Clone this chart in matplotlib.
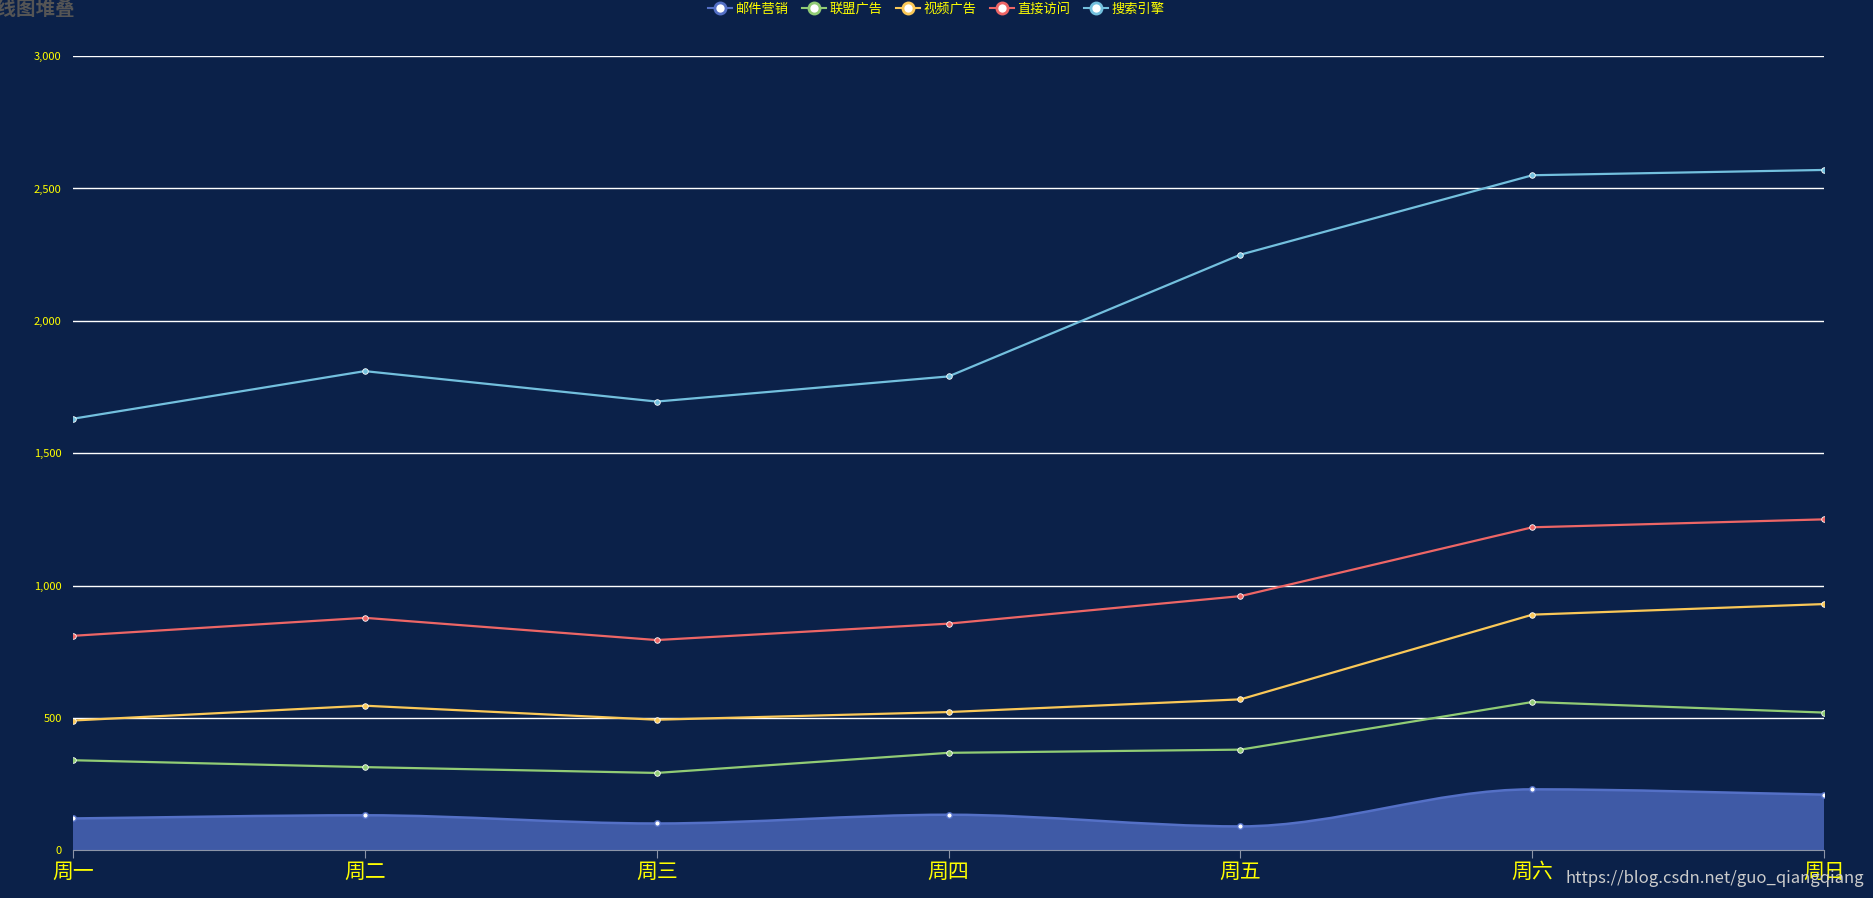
import matplotlib
matplotlib.use("Agg")
import matplotlib.pyplot as plt
import numpy as np
from matplotlib.path import Path
from matplotlib.patches import PathPatch
from matplotlib.lines import Line2D

plt.rcParams['font.family'] = ['Noto Sans CJK SC', 'DejaVu Sans']

days = ['周一', '周二', '周三', '周四', '周五', '周六', '周日']
series_names = ['邮件营销', '联盟广告', '视频广告', '直接访问', '搜索引擎']
email = [120, 132, 101, 134, 90, 230, 210]
union = [220, 182, 191, 234, 290, 330, 310]
video = [150, 232, 201, 154, 190, 330, 410]
direct = [320, 332, 301, 334, 390, 330, 320]
search = [820, 932, 901, 934, 1290, 1330, 1320]
colors = ['#5470c6', '#91cc75', '#fac858', '#ee6666', '#73c0de']
bg = '#0b2149'

W, H = 1873, 898
fig = plt.figure(figsize=(W/100, H/100), dpi=100, facecolor=bg)
ax = fig.add_axes([0.0389, 0.0532, 0.974-0.0389, 0.9375-0.0532], facecolor=bg)

x = np.arange(len(days))
stack = np.cumsum(np.array([email, union, video, direct, search]), axis=0)

def smooth_path(xs, ys, close=False):
    verts = [(xs[0], ys[0])]
    codes = [Path.MOVETO]
    n = len(xs)
    for i in range(n-1):
        x0, y0 = xs[i], ys[i]
        x1, y1 = xs[i+1], ys[i+1]
        yp = ys[i-1] if i > 0 else y0
        yn = ys[i+2] if i+2 < n else y1
        d0 = 0 if (y0-yp)*(y1-y0) <= 0 and i > 0 else (y1-yp)/2 if i > 0 else (y1-y0)
        d1 = 0 if (yn-y1)*(y1-y0) <= 0 and i+2 < n else (yn-y0)/2 if i+2 < n else (y1-y0)
        c1 = (x0 + 1/3, y0 + d0/3)
        c2 = (x1 - 1/3, y1 - d1/3)
        verts += [c1, c2, (x1, y1)]
        codes += [Path.CURVE4]*3
    if close:
        verts += [(xs[-1], 0), (xs[0], 0), (xs[0], ys[0])]
        codes += [Path.LINETO, Path.LINETO, Path.CLOSEPOLY]
    return Path(verts, codes)

ax.add_patch(PathPatch(smooth_path(x, stack[0], close=True), facecolor='#3f5aa6', edgecolor='none', zorder=1))
ax.add_patch(PathPatch(smooth_path(x, stack[0]), facecolor='none', edgecolor=colors[0], lw=1.8, zorder=3))
ax.plot(x, stack[0], 'o', color=colors[0], ms=4, mfc='white', mec=colors[0], zorder=4)
for k in range(1, 5):
    ax.plot(x, stack[k], '-o', color=colors[k], lw=1.6, ms=4, mfc=colors[k], mec='white', mew=0.6, zorder=3)

ax.set_xlim(0, 6)
ax.set_ylim(0, 3000)
ax.set_yticks(range(0, 3001, 500))
ax.set_yticklabels([f'{v:,}' for v in range(0, 3001, 500)])
ax.set_xticks(x)
ax.set_xticklabels(days)
ax.grid(axis='y', color='white', lw=1)
ax.set_axisbelow(True)
for s in ['top', 'right', 'left']:
    ax.spines[s].set_visible(False)
ax.spines['bottom'].set_color('#8c95a8')
ax.tick_params(axis='y', length=0, colors='yellow', labelsize=8, pad=8)
ax.tick_params(axis='x', length=6, color='#8c95a8', colors='yellow', labelsize=15, pad=2)

handles = [Line2D([], [], color=c, marker='o', ms=8, mfc='white', mec=c, mew=2, lw=1.5) for c in colors]
fig.legend(handles, series_names, loc='upper center', bbox_to_anchor=(0.5, 1.01), ncol=5, frameon=False,
           labelcolor='yellow', fontsize=9.5, handlelength=1.8, handletextpad=0.3, columnspacing=1.0)

fig.text(-0.012, 1.0, '折线图堆叠', color='#555555', fontsize=14, fontweight='bold', va='top', ha='left')
fig.text(0.995, 0.012, 'https://blog.csdn.net/guo_qiangqiang', color='#cccccc', fontsize=12, ha='right', va='bottom')

fig.savefig('out.png', dpi=100, facecolor=bg)
